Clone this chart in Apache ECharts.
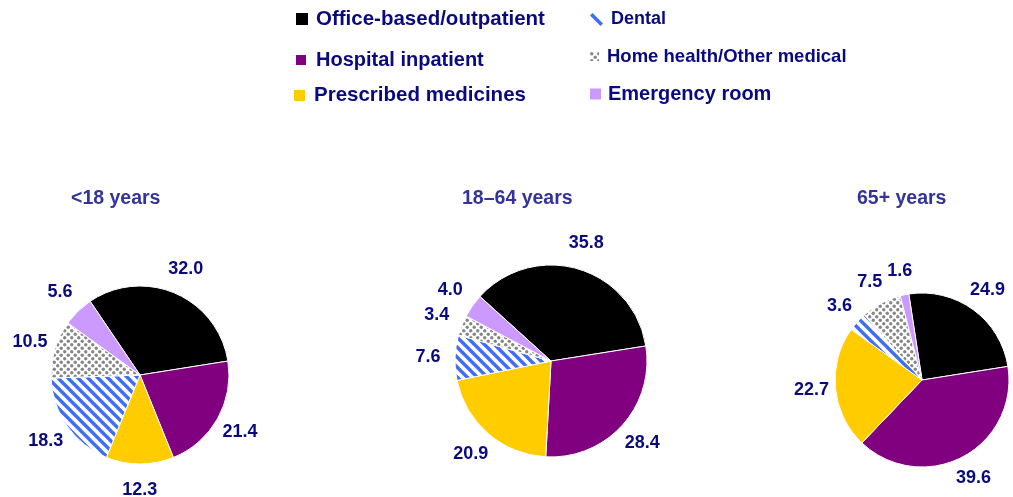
<!DOCTYPE html>
<html>
<head>
<meta charset="utf-8">
<script src="https://cdn.jsdelivr.net/npm/echarts@6/dist/echarts.min.js"></script>
<style>
html,body{margin:0;padding:0;background:#fff;}
#chart{width:1013px;height:497px;}
</style>
</head>
<body>
<div id="chart"></div>
<script>
// ---- data ----
const categories = ['Office-based/outpatient', 'Hospital inpatient', 'Prescribed medicines', 'Dental', 'Home health/Other medical', 'Emergency room'];
const groups = ['<18 years', '18\u201364 years', '65+ years'];
const under18 = [32.0, 21.4, 12.3, 18.3, 10.5, 5.6];
const age18to64 = [35.8, 28.4, 20.9, 7.6, 3.4, 4.0];
const age65plus = [24.9, 39.6, 22.7, 3.6, 7.5, 1.6];
const groupValues = [under18, age18to64, age65plus];

// ---- styles ----
const FONT = '"Liberation Sans", Arial, sans-serif';
const NAVY = '#0a0a80';

function stripeCanvas() {
  const s = 10;
  const c = document.createElement('canvas');
  c.width = s; c.height = s;
  const g = c.getContext('2d');
  g.fillStyle = '#ffffff'; g.fillRect(0, 0, s, s);
  g.strokeStyle = '#3d6ff0'; g.lineWidth = 3.4;
  for (let k = -1; k <= 1; k++) {
    g.beginPath(); g.moveTo(k * s - 1, -1); g.lineTo(k * s + s + 1, s + 1); g.stroke();
  }
  return c;
}
function dotCanvas() {
  const s = 7;
  const c = document.createElement('canvas');
  c.width = s; c.height = s;
  const g = c.getContext('2d');
  g.fillStyle = '#ffffff'; g.fillRect(0, 0, s, s);
  g.fillStyle = '#868686';
  const pts = [[1.75, 1.75], [5.25, 5.25]];
  pts.forEach(p => { g.beginPath(); g.arc(p[0], p[1], 1.7, 0, Math.PI * 2); g.fill(); });
  return c;
}
const fills = [
  '#000000',
  '#800080',
  '#ffcc00',
  { image: stripeCanvas(), repeat: 'repeat' },
  { image: dotCanvas(), repeat: 'repeat' },
  '#cc99ff'
];

const pieLayout = [
  { center: [140, 375], r: 89, ring: 44, titleLeft: 71 },
  { center: [551, 361], r: 96, ring: 46, titleLeft: 462 },
  { center: [922, 380], r: 87, ring: 40, titleLeft: 857 }
];

const series = [];
groupValues.forEach((vals, gi) => {
  const L = pieLayout[gi];
  const total = vals.reduce((a, b) => a + b, 0);
  const startAngle = 9 + 360 * vals[0] / total;
  series.push({
    type: 'pie',
    center: L.center,
    radius: L.r,
    startAngle: startAngle,
    clockwise: true,
    animation: false,
    silent: true,
    label: { show: false },
    labelLine: { show: false },
    itemStyle: { borderColor: '#ffffff', borderWidth: 1 },
    data: categories.map((c, i) => ({ name: c, value: vals[i], itemStyle: { color: fills[i] } }))
  });
  series.push({
    type: 'pie',
    center: L.center,
    radius: [L.r + 2, L.r + L.ring],
    startAngle: startAngle,
    clockwise: true,
    animation: false,
    silent: true,
    itemStyle: { color: 'rgba(0,0,0,0)', borderWidth: 0 },
    label: {
      show: true, position: 'inside', rotate: 0,
      color: NAVY, fontFamily: FONT, fontWeight: 'bold', fontSize: 18,
      formatter: p => p.value.toFixed(1)
    },
    labelLine: { show: false },
    data: categories.map((c, i) => ({ name: c, value: vals[i] }))
  });
});

const legendSpec = [
  { i: 0, left: 296, top: 8.5, fs: 20.5, w: 12, h: 12, pad: 3 },
  { i: 1, left: 296, top: 50, fs: 20, w: 10, h: 10, pad: 5 },
  { i: 2, left: 294, top: 85, fs: 20.5, w: 11, h: 11, pad: 4 },
  { i: 3, left: 590, top: 10.5, fs: 18, w: 13, h: 13, pad: 3, icon: 'path://M0,2.5 L2.5,0 L13,10.5 L10.5,13 Z', color: '#3d6ff0' },
  { i: 4, left: 590, top: 47, fs: 18.5, w: 9, h: 9, pad: 3 },
  { i: 5, left: 590, top: 84, fs: 20, w: 11, h: 11, pad: 2 }
];
const legends = legendSpec.map(s => {
  const item = { name: categories[s.i], icon: s.icon || 'rect' };
  if (s.color) item.itemStyle = { color: s.color, borderWidth: 0 };
  return {
    data: [item],
    left: s.left, top: s.top, padding: 0,
    itemWidth: s.w, itemHeight: s.h,
    selectedMode: false,
    itemStyle: { borderWidth: 0 },
    textStyle: { color: NAVY, fontFamily: FONT, fontWeight: 'bold', fontSize: s.fs, padding: [0, 0, 0, s.pad] }
  };
});

const titles = groups.map((g, gi) => ({
  text: g,
  left: pieLayout[gi].titleLeft,
  top: 189,
  padding: 0,
  textStyle: { color: '#333399', fontFamily: FONT, fontWeight: 'bold', fontSize: 19.5 }
}));

const chart = echarts.init(document.getElementById('chart'), null, { renderer: 'canvas' });
chart.setOption({
  backgroundColor: '#ffffff',
  animation: false,
  title: titles,
  legend: legends,
  series: series
});
</script>
</body>
</html>
